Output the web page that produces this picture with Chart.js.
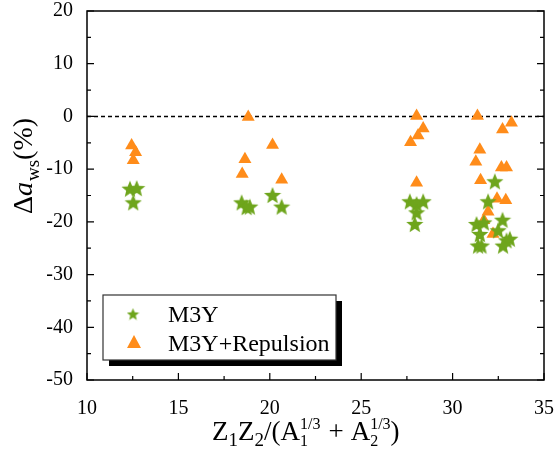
<!DOCTYPE html>
<html>
<head>
    <script src="https://cdn.jsdelivr.net/npm/chart.js"></script>
    <style>
        body { margin: 0; background: #fff; }
    </style>
</head>
<body>
    <canvas id="c" width="556" height="453"></canvas>
    <script>
        // values
        const m3yX = [12.35, 12.72, 12.53, 18.46, 18.73, 18.91, 20.15, 20.65,
                      27.66, 28.39, 28.03, 28.03, 27.93,
                      32.31, 31.94, 32.73, 31.31, 31.71, 31.49, 32.49, 33.13, 32.95, 31.39, 31.58, 32.76];
        const m3yY = [-13.7, -13.6, -16.3, -16.3, -17.2, -17.1, -14.9, -17.1,
                      -16.1, -16.1, -16.6, -18.2, -20.4,
                      -12.3, -16.1, -19.6, -20.4, -20.1, -22.3, -21.6, -23.2, -23.5, -24.5, -24.5, -24.5];
        const repX = [12.44, 12.66, 12.53, 18.82, 18.64, 18.49, 20.15, 20.65,
                      28.03, 28.39, 28.11, 27.70, 28.03,
                      31.36, 33.22, 32.73, 31.49, 31.27, 32.67, 32.95, 31.53, 32.43, 32.91, 31.94, 31.71, 32.21];
        const repY = [-5.5, -6.8, -8.3, -0.1, -8.1, -10.9, -5.4, -12.0,
                      0.1, -2.3, -3.6, -4.9, -12.6,
                      0.1, -1.2, -2.5, -6.3, -8.6, -9.7, -9.7, -12.1, -15.6, -15.9, -18.1, -19.7, -22.3];
        const xTicks = [10, 15, 20, 25, 30, 35];
        const yTicks = [-50, -40, -30, -20, -10, 0, 10, 20];
        const refLineX = [10, 35];
        const refLineY = [0, 0];

        const green = '#6ea51c';
        const orange = '#ff8c1a';
        const serif = "'Liberation Serif', serif";
        Chart.defaults.font.family = serif;

        function starCanvas(size, color) {
            const cv = document.createElement('canvas');
            cv.width = size; cv.height = size;
            const g = cv.getContext('2d');
            const c = size / 2, ro = size / 2, ri = ro * 0.44;
            g.beginPath();
            for (let i = 0; i < 10; i++) {
                const r = i % 2 ? ri : ro;
                const a = -Math.PI / 2 + i * Math.PI / 5;
                g.lineTo(c + r * Math.cos(a), c + r * Math.sin(a) + size * 0.05);
            }
            g.closePath();
            g.fillStyle = color;
            g.fill();
            return cv;
        }
        const star = starCanvas(18, green);
        const starSmall = starCanvas(13, green);

        const pts = (xs, ys) => xs.map((x, i) => ({ x: x, y: ys[i] }));

        // draws a row of text pieces with sub/superscripts
        function drawRich(ctx, parts, x, y) {
            let cx = x;
            parts.forEach(p => {
                ctx.font = (p.italic ? 'italic ' : '') + p.size + 'px ' + serif;
                ctx.fillText(p.t, cx, y + (p.dy || 0));
                let w = ctx.measureText(p.t).width;
                if (p.sup) {
                    ctx.font = p.sup.size + 'px ' + serif;
                    ctx.fillText(p.sup.t, cx, y + p.sup.dy);
                    w = Math.max(w, ctx.measureText(p.sup.t).width);
                }
                cx += w + (p.gap || 0);
            });
        }

        const decor = {
            id: 'decor',
            afterDraw(chart) {
                const ctx = chart.ctx;
                const a = chart.chartArea;
                const xs = chart.scales.x, ys = chart.scales.y;
                ctx.save();
                ctx.strokeStyle = '#000';
                ctx.lineWidth = 1.5;
                ctx.strokeRect(a.left, a.top, a.right - a.left, a.bottom - a.top);

                // inward ticks: left, right and bottom
                ctx.lineWidth = 1.2;
                ctx.beginPath();
                for (let v = -50; v <= 20; v += 5) {
                    const p = ys.getPixelForValue(v);
                    const len = v % 10 === 0 ? 7 : 4;
                    ctx.moveTo(a.left, p); ctx.lineTo(a.left + len, p);
                    ctx.moveTo(a.right, p); ctx.lineTo(a.right - len, p);
                }
                for (let v = 10; v <= 35; v += 2.5) {
                    const p = xs.getPixelForValue(v);
                    const len = v % 5 === 0 ? 7 : 4;
                    ctx.moveTo(p, a.bottom); ctx.lineTo(p, a.bottom - len);
                }
                ctx.stroke();

                // axis titles
                ctx.fillStyle = '#000';
                ctx.textBaseline = 'alphabetic';
                ctx.textAlign = 'left';
                drawRich(ctx, [
                    { t: 'Z', size: 27 },
                    { t: '1', size: 19, dy: 6 },
                    { t: 'Z', size: 27 },
                    { t: '2', size: 19, dy: 6 },
                    { t: '/(A', size: 27 },
                    { t: '1', size: 16, dy: 6, sup: { t: '1/3', size: 16, dy: -11 }, gap: 8 },
                    { t: '+', size: 27, gap: 7 },
                    { t: 'A', size: 27 },
                    { t: '2', size: 16, dy: 6, sup: { t: '1/3', size: 16, dy: -11 } },
                    { t: ')', size: 27 }
                ], 212, 440);

                ctx.save();
                ctx.translate(32, 214);
                ctx.rotate(-Math.PI / 2);
                drawRich(ctx, [
                    { t: 'Δ', size: 28 },
                    { t: 'a', size: 28, italic: true, gap: 1 },
                    { t: 'ws', size: 19, dy: 7 },
                    { t: '(%)', size: 28 }
                ], 0, 0);
                ctx.restore();

                // legend box with shadow
                const bx = 103, by = 295, bw = 233, bh = 65;
                ctx.fillStyle = '#000';
                ctx.fillRect(bx + 6, by + 6, bw, bh);
                ctx.fillStyle = '#fff';
                ctx.fillRect(bx, by, bw, bh);
                ctx.strokeStyle = '#333';
                ctx.lineWidth = 1.2;
                ctx.strokeRect(bx, by, bw, bh);

                ctx.drawImage(starSmall, 133 - 6.5, 314 - 6.5);
                ctx.fillStyle = orange;
                ctx.beginPath();
                ctx.moveTo(134, 335); ctx.lineTo(141, 348); ctx.lineTo(127, 348);
                ctx.closePath();
                ctx.fill();

                ctx.fillStyle = '#000';
                ctx.font = '24px ' + serif;
                ctx.fillText('M3Y', 168, 322);
                ctx.fillText('M3Y+Repulsion', 168, 351);
                ctx.restore();
            }
        };

        new Chart(document.getElementById('c'), {
            type: 'scatter',
            data: {
                datasets: [
                    {
                        label: 'M3Y',
                        data: pts(m3yX, m3yY),
                        pointStyle: star,
                        backgroundColor: green,
                        borderColor: green
                    },
                    {
                        label: 'M3Y+Repulsion',
                        data: pts(repX, repY),
                        pointStyle: 'triangle',
                        pointRadius: 7.5,
                        backgroundColor: orange,
                        borderColor: orange,
                        borderWidth: 0
                    },
                    {
                        label: 'zero',
                        data: pts(refLineX, refLineY),
                        showLine: true,
                        pointRadius: 0,
                        borderColor: '#000',
                        borderWidth: 1.5,
                        borderDash: [4, 3]
                    }
                ]
            },
            options: {
                responsive: false,
                animation: false,
                devicePixelRatio: 1,
                layout: { padding: { left: 0, right: 12, top: 11, bottom: 0 } },
                plugins: { legend: { display: false }, tooltip: { enabled: false } },
                scales: {
                    x: {
                        type: 'linear', min: 10, max: 35,
                        afterBuildTicks: s => { s.ticks = xTicks.map(v => ({ value: v })); },
                        afterFit: s => { s.height = 73; s.paddingLeft = 0; s.paddingRight = 0; },
                        grid: { display: false },
                        border: { display: false },
                        ticks: { color: '#000', padding: 9, maxRotation: 0, font: { family: serif, size: 20 } }
                    },
                    y: {
                        min: -50, max: 20,
                        afterBuildTicks: s => { s.ticks = yTicks.map(v => ({ value: v })); },
                        afterFit: s => { s.width = 87; s.paddingTop = 0; s.paddingBottom = 0; },
                        grid: { display: false },
                        border: { display: false },
                        ticks: { color: '#000', padding: 6, font: { family: serif, size: 20 } }
                    }
                }
            },
            plugins: [decor]
        });
    </script>
</body>
</html>
